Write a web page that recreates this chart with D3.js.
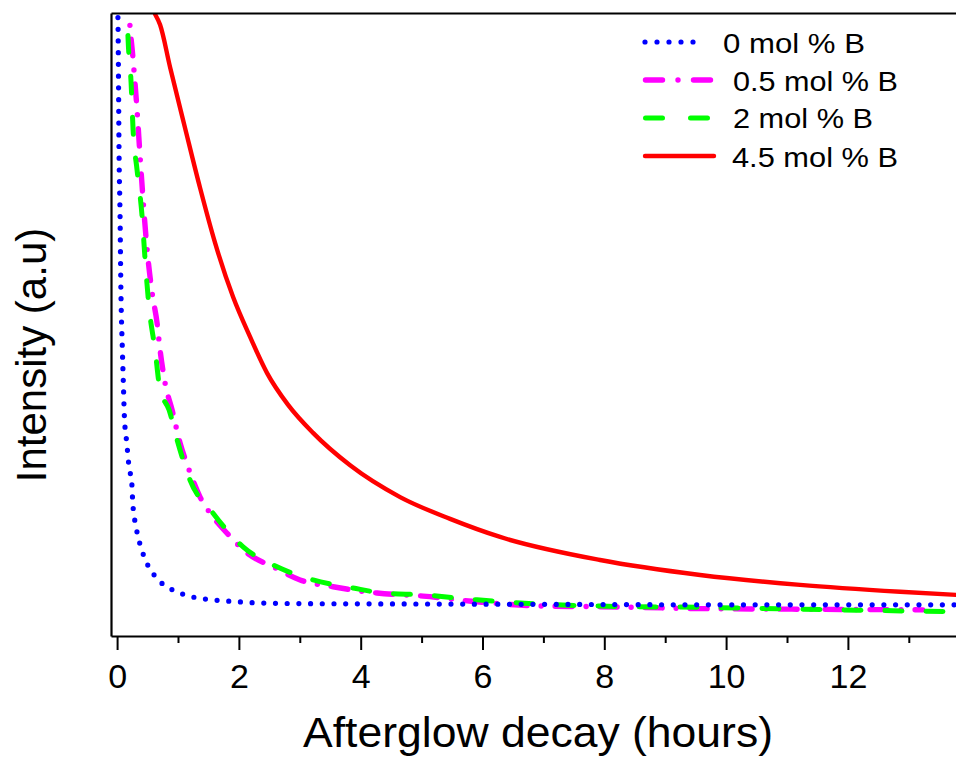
<!DOCTYPE html>
<html>
<head>
<meta charset="utf-8">
<script src="https://cdn.jsdelivr.net/npm/d3@7"></script>
<style>
  html, body { margin: 0; padding: 0; background: #fff; }
  svg { display: block; font-family: "Liberation Sans", Arial, Helvetica, sans-serif; }
</style>
</head>
<body>
<svg id="chart" width="956" height="757"></svg>
<script>
// ---------------- data ----------------
const seriesNames = ["0 mol % B", "0.5 mol % B", "2 mol % B", "4.5 mol % B"];
const xTicksMajor = [0, 2, 4, 6, 8, 10, 12];
const xTicksMinor = [1, 3, 5, 7, 9, 11, 13];

// 0 mol % B  (hours, intensity a.u.)
const hours0 = [0.005, 0.016, 0.033, 0.049, 0.061, 0.087, 0.103, 0.120, 0.159, 0.197, 0.241, 0.258, 0.312, 0.406, 0.488, 0.586, 0.706, 0.816, 0.980, 1.227, 1.576, 1.966, 2.348, 3.00, 4.5, 6.29, 8.0, 9.57, 11.5, 13.78];
const int0   = [103, 97.8, 76.9, 67.3, 56.7, 45.9, 40.6, 35.2, 31.0, 27.1, 24.6, 21.3, 17.5, 13.8, 11.7, 10.1, 8.7, 7.9, 7.1, 6.3, 5.8, 5.5, 5.3, 5.2, 5.15, 5.1, 5.05, 5.0, 5.0, 5.0];

// 0.5 mol % B
const hours05 = [0.18, 0.197, 0.263, 0.328, 0.378, 0.427, 0.493, 0.575, 0.657, 0.706, 0.788, 0.903, 1.034, 1.166, 1.363, 1.576, 1.806, 2.135, 2.562, 3.005, 3.547, 4.269, 5.025, 5.911, 6.995, 7.931, 9.573, 11.2, 13.23];
const int05   = [103, 100, 92.5, 84.4, 76.9, 70.0, 62.0, 55.1, 50.2, 45.9, 40.6, 36.3, 31.0, 27.1, 22.3, 19.1, 16.5, 13.3, 11.1, 9.0, 7.9, 6.9, 6.4, 5.5, 4.8, 4.7, 4.4, 4.3, 4.2];

// 2 mol % B
const hours2 = [0.148, 0.164, 0.181, 0.23, 0.263, 0.328, 0.411, 0.46, 0.525, 0.624, 0.706, 0.854, 0.985, 1.199, 1.576, 2.069, 2.627, 3.218, 3.875, 4.368, 5.025, 5.911, 6.995, 7.931, 9.573, 11.215, 13.777];
const int2   = [103, 100.2, 95.7, 88.8, 81.2, 74.8, 67.3, 60.4, 52.8, 45.9, 39.5, 36.3, 31.5, 25.0, 19.7, 14.3, 11.1, 9.0, 7.7, 6.9, 6.6, 5.8, 5.1, 4.8, 4.6, 4.3, 3.9];

// 4.5 mol % B
const hours45 = [0.624, 0.706, 0.870, 1.117, 1.363, 1.609, 1.905, 2.184, 2.463, 2.808, 3.218, 3.826, 4.647, 5.468, 6.289, 7.931, 9.573, 11.215, 12.857, 13.777];
const int45   = [99.8, 98.1, 91.3, 81.5, 71.9, 63.1, 54.4, 48.0, 42.2, 37.1, 32.6, 27.4, 22.3, 18.8, 15.9, 12.2, 9.8, 8.2, 7.1, 6.6];

// ---------------- chart ----------------
const svg = d3.select("#chart");
const plotLeft = 111, plotRight = 956, plotTop = 13, plotBottom = 636;

const x = d3.scaleLinear().domain([-0.1, 13.775]).range([plotLeft, plotRight]);
const y = d3.scaleLinear().domain([0, 100]).range([plotBottom, plotTop]);

svg.append("rect").attr("width", 956).attr("height", 757).attr("fill", "#fff");

svg.append("defs").append("clipPath").attr("id", "plotclip")
  .append("rect").attr("x", plotLeft).attr("y", plotTop)
  .attr("width", plotRight - plotLeft).attr("height", plotBottom - plotTop);

const styles = [
  { name: seriesNames[0], xs: hours0,  ys: int0,  color: "#0000ff", width: 5.2, dash: "0,11.7" },
  { name: seriesNames[1], xs: hours05, ys: int05, color: "#ff00ff", width: 5.4, dash: "17,14,0,14" },
  { name: seriesNames[2], xs: hours2,  ys: int2,  color: "#00ff00", width: 5.0, dash: "17,24" },
  { name: seriesNames[3], xs: hours45, ys: int45, color: "#ff0000", width: 4.4, dash: null }
];

const line = d3.line()
  .x(d => x(d[0]))
  .y(d => y(d[1]))
  .curve(d3.curveMonotoneX);

const plot = svg.append("g").attr("clip-path", "url(#plotclip)");
// drawing order: magenta, green, blue, red
[1, 2, 0, 3].forEach(i => {
  const s = styles[i];
  const pts = s.xs.map((v, k) => [v, s.ys[k]]);
  plot.append("path")
    .datum(pts)
    .attr("d", line)
    .attr("fill", "none")
    .attr("stroke", s.color)
    .attr("stroke-width", s.width)
    .attr("stroke-linecap", "round")
    .attr("stroke-linejoin", "round")
    .attr("stroke-dasharray", s.dash);
});

// ---------------- axes ----------------
const xAxisMajor = d3.axisBottom(x)
  .tickValues(xTicksMajor)
  .tickFormat(d3.format("d"))
  .tickSize(14)
  .tickSizeOuter(0)
  .tickPadding(14);
const gx = svg.append("g").attr("transform", `translate(0,${plotBottom})`).call(xAxisMajor);
gx.select(".domain").attr("stroke", "#000").attr("stroke-width", 2.2);
gx.selectAll(".tick line").attr("stroke", "#000").attr("stroke-width", 2);
gx.selectAll(".tick text")
  .attr("fill", "#000")
  .style("font-size", "34px")
  .style("font-family", "'Liberation Sans', Arial, sans-serif");

const xAxisMinor = d3.axisBottom(x)
  .tickValues(xTicksMinor)
  .tickFormat("")
  .tickSize(7)
  .tickSizeOuter(0);
const gxm = svg.append("g").attr("transform", `translate(0,${plotBottom})`).call(xAxisMinor);
gxm.select(".domain").remove();
gxm.selectAll(".tick line").attr("stroke", "#000").attr("stroke-width", 2);

const yAxis = d3.axisLeft(y).tickValues([]).tickSizeOuter(0);
const gy = svg.append("g").attr("transform", `translate(${plotLeft},0)`).call(yAxis);
gy.select(".domain").attr("stroke", "#000").attr("stroke-width", 2.2);

const xTop = d3.axisTop(x).tickValues([]).tickSizeOuter(0);
const gt = svg.append("g").attr("transform", `translate(0,${plotTop})`).call(xTop);
gt.select(".domain").attr("stroke", "#000").attr("stroke-width", 2);

// ---------------- titles ----------------
svg.append("text")
  .attr("x", 303).attr("y", 747)
  .attr("textLength", 470).attr("lengthAdjust", "spacingAndGlyphs")
  .style("font-size", "42px").attr("fill", "#000")
  .text("Afterglow decay (hours)");

svg.append("text")
  .attr("transform", "translate(46,355) rotate(-90)")
  .attr("text-anchor", "middle")
  .style("font-size", "42px").attr("fill", "#000")
  .text("Intensity (a.u)");

// ---------------- legend ----------------
const legendRows = [
  { lineY: 42,  x1: 645,   x2: 705,   textX: 723, baseY: 52.7, w: 142 },
  { lineY: 80,  x1: 645.5, x2: 710.5, textX: 733, baseY: 91,   w: 165 },
  { lineY: 118, x1: 645.5, x2: 709.5, textX: 733, baseY: 128.3, w: 140 },
  { lineY: 156, x1: 645,   x2: 714,   textX: 732, baseY: 166.7, w: 166 }
];
const legendDash = ["0,12", "17,15.5,0,15.5", "17,28", null];
const leg = svg.append("g");
styles.forEach((s, i) => {
  const r = legendRows[i];
  leg.append("line")
    .attr("x1", r.x1).attr("x2", r.x2).attr("y1", r.lineY).attr("y2", r.lineY)
    .attr("stroke", s.color).attr("stroke-width", s.width)
    .attr("stroke-linecap", "round")
    .attr("stroke-dasharray", legendDash[i]);
  leg.append("text")
    .attr("x", r.textX).attr("y", r.baseY)
    .attr("textLength", r.w).attr("lengthAdjust", "spacingAndGlyphs")
    .style("font-size", "28px").attr("fill", "#000")
    .text(s.name);
});
</script>
</body>
</html>
